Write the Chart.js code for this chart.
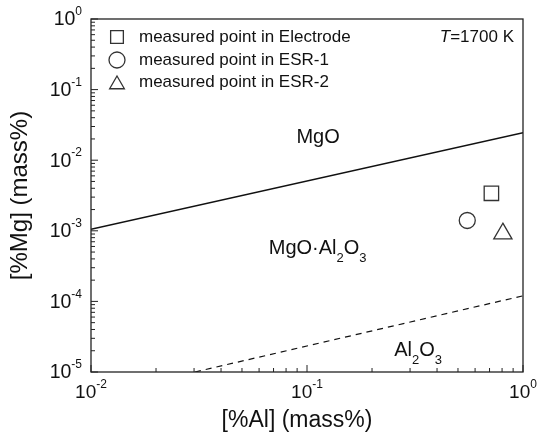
<!DOCTYPE html>
<html>
<head>
<meta charset="utf-8">
<script src="https://cdn.jsdelivr.net/npm/chart.js@4.4.0/dist/chart.umd.min.js"></script>
<style>
  html, body { margin: 0; padding: 0; background: #fff; }
  #wrap { width: 538px; height: 440px; }
</style>
</head>
<body>
<div id="wrap"><canvas id="chart" width="538" height="440"></canvas></div>
<script>
// log axes: decades and the exponent shown on each
const xDecades = [0.01, 0.1, 1];
const xExponents = ['-2', '-1', '0'];
const yDecades = [1e-5, 1e-4, 1e-3, 1e-2, 1e-1, 1];
const yExponents = ['-5', '-4', '-3', '-2', '-1', '0'];

// MgO / MgO.Al2O3 boundary (solid)
const mgoLineAl = [0.01, 1];
const mgoLineMg = [1.05e-3, 0.0245];
// MgO.Al2O3 / Al2O3 boundary (dashed)
const spinelLineAl = [0.0303, 1];
const spinelLineMg = [1e-5, 1.2e-4];

// measured points
const seriesNames = ['measured point in Electrode', 'measured point in ESR-1', 'measured point in ESR-2'];
const seriesStyles = ['rect', 'circle', 'triangle'];
const measuredAl = [0.714, 0.552, 0.807];
const measuredMg = [3.4e-3, 1.4e-3, 9.1e-4];

const FONT = '"Liberation Sans", Arial, Helvetica, sans-serif';

// region labels, placed in data coordinates
const regionLabels = [
  { parts: [['MgO', 'n']], x: 0.1125, y: 0.0211 },
  { parts: [['MgO·Al', 'n'], ['2', 'sub'], ['O', 'n'], ['3', 'sub']], x: 0.112, y: 5.7e-4 },
  { parts: [['Al', 'n'], ['2', 'sub'], ['O', 'n'], ['3', 'sub']], x: 0.327, y: 2.05e-5 }
];

function drawParts(ctx, parts, x, y, align, size, small) {
  const pieces = parts.map(([text, kind]) => {
    const sz = (kind === 'sup' || kind === 'sub') ? small : size;
    const f = (kind === 'i' ? 'italic ' : '') + sz + 'px ' + FONT;
    ctx.font = f;
    return { text, kind, f, w: ctx.measureText(text).width };
  });
  const total = pieces.reduce((s, p) => s + p.w, 0);
  let cx = align === 'center' ? x - total / 2 : (align === 'right' ? x - total : x);
  ctx.textAlign = 'left';
  ctx.textBaseline = 'middle';
  pieces.forEach(p => {
    ctx.font = p.f;
    let dy = 0;
    if (p.kind === 'sup') dy = -0.42 * size;
    if (p.kind === 'sub') dy = 0.5 * size;
    ctx.fillText(p.text, cx, y + dy);
    cx += p.w;
  });
}

const framePlugin = {
  id: 'frame',
  afterDraw(chart) {
    const ctx = chart.ctx;
    const a = chart.chartArea;
    const xs = chart.scales.x;
    const ys = chart.scales.y;
    ctx.save();
    ctx.strokeStyle = '#222';
    ctx.fillStyle = '#111';
    ctx.lineWidth = 1.3;
    ctx.strokeRect(a.left, a.top, a.right - a.left, a.bottom - a.top);

    // inward ticks on left and bottom
    ctx.lineWidth = 1;
    ctx.beginPath();
    xDecades.forEach((d, i) => {
      const px = xs.getPixelForValue(d);
      ctx.moveTo(px, a.bottom); ctx.lineTo(px, a.bottom - 7);
      if (i < xDecades.length - 1) {
        for (let k = 2; k < 10; k++) {
          const mx = xs.getPixelForValue(d * k);
          ctx.moveTo(mx, a.bottom); ctx.lineTo(mx, a.bottom - 4);
        }
      }
    });
    yDecades.forEach((d, i) => {
      const py = ys.getPixelForValue(d);
      ctx.moveTo(a.left, py); ctx.lineTo(a.left + 7, py);
      if (i < yDecades.length - 1) {
        for (let k = 2; k < 10; k++) {
          const my = ys.getPixelForValue(d * k);
          ctx.moveTo(a.left, my); ctx.lineTo(a.left + 4, my);
        }
      }
    });
    ctx.stroke();

    // tick labels
    xDecades.forEach((d, i) => {
      drawParts(ctx, [['10', 'n'], [xExponents[i], 'sup']], xs.getPixelForValue(d), a.bottom + 21, 'center', 19, 12);
    });
    yDecades.forEach((d, i) => {
      drawParts(ctx, [['10', 'n'], [yExponents[i], 'sup']], a.left - 9, ys.getPixelForValue(d) + 1, 'right', 19.5, 12);
    });

    // axis titles
    ctx.font = '23px ' + FONT;
    ctx.textAlign = 'center';
    ctx.textBaseline = 'middle';
    ctx.fillText('[%Al] (mass%)', (a.left + a.right) / 2 - 10, 421);
    ctx.save();
    ctx.translate(20, (a.top + a.bottom) / 2);
    ctx.rotate(-Math.PI / 2);
    ctx.font = '24px ' + FONT;
    ctx.fillText('[%Mg] (mass%)', 0, 0);
    ctx.restore();

    // region labels
    regionLabels.forEach(l => {
      drawParts(ctx, l.parts, xs.getPixelForValue(l.x), ys.getPixelForValue(l.y), 'center', 20, 13);
    });

    // temperature
    drawParts(ctx, [['T', 'i'], ['=1700 K', 'n']], a.right - 9, a.top + 18, 'right', 17, 12);

    // legend
    const rowY = [37, 60, 82];
    const legendRadius = [9, 8, 8.5];
    ctx.strokeStyle = '#333';
    ctx.lineWidth = 1.3;
    seriesNames.forEach((name, i) => {
      ctx.fillStyle = '#fff';
      Chart.helpers.drawPoint(ctx, { pointStyle: seriesStyles[i], radius: legendRadius[i], borderWidth: 1.3, rotation: 0 },
        117, rowY[i] + (seriesStyles[i] === 'triangle' ? 2.5 : 0));
      ctx.fillStyle = '#111';
      ctx.font = '17px ' + FONT;
      ctx.textAlign = 'left';
      ctx.textBaseline = 'middle';
      ctx.fillText(name, 139, rowY[i]);
    });
    ctx.restore();
  }
};

const pointRadius = [10.2, 8, 10.5];

const datasets = [
  {
    label: 'MgO boundary',
    data: mgoLineAl.map((x, i) => ({ x, y: mgoLineMg[i] })),
    showLine: true,
    borderColor: '#111',
    borderWidth: 1.4,
    pointRadius: 0
  },
  {
    label: 'Al2O3 boundary',
    data: spinelLineAl.map((x, i) => ({ x, y: spinelLineMg[i] })),
    showLine: true,
    borderColor: '#111',
    borderWidth: 1.2,
    borderDash: [6, 5],
    pointRadius: 0
  }
];
seriesNames.forEach((name, i) => {
  datasets.push({
    label: name,
    data: [{ x: measuredAl[i], y: measuredMg[i] }],
    pointStyle: seriesStyles[i],
    pointRadius: pointRadius[i],
    pointBorderWidth: 1.3,
    pointBorderColor: '#333',
    pointBackgroundColor: '#fff',
    showLine: false
  });
});

new Chart(document.getElementById('chart').getContext('2d'), {
  type: 'scatter',
  data: { datasets },
  options: {
    responsive: false,
    animation: false,
    devicePixelRatio: 1,
    layout: { padding: { left: 91, right: 15, top: 19, bottom: 68 } },
    plugins: {
      legend: { display: false },
      tooltip: { enabled: false }
    },
    scales: {
      x: { type: 'logarithmic', min: 0.01, max: 1, display: false },
      y: { type: 'logarithmic', min: 1e-5, max: 1, display: false }
    }
  },
  plugins: [framePlugin]
});
</script>
</body>
</html>
